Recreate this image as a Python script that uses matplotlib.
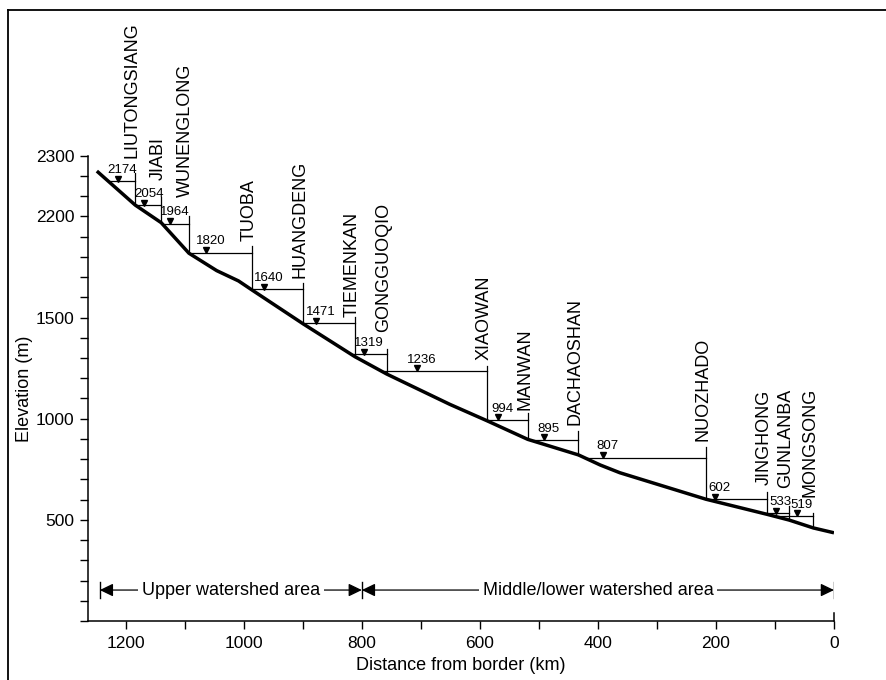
import numpy as np
import matplotlib
matplotlib.use('Agg')
import matplotlib.pyplot as plt
from matplotlib.lines import Line2D
from matplotlib.transforms import ScaledTranslation

plt.rcParams['font.family'] = ['Liberation Sans', 'DejaVu Sans']

# river bed profile: distance from border (km) and elevation (m)
profile_km = [1249, 1184, 1140, 1093, 1046, 1009, 986, 899, 812, 758, 651,
              588, 519, 433, 396, 363, 217, 113, 76, 35, 0]
profile_elev = [2224, 2056, 1969, 1818, 1732, 1681, 1636, 1468, 1307, 1221, 1071,
                990, 898, 821, 771, 733, 602, 527, 499, 460, 436]

# cascade dams (upstream -> downstream)
dams = ['LIUTONGSIANG', 'JIABI', 'WUNENGLONG', 'TUOBA', 'HUANGDENG', 'TIEMENKAN',
        'GONGGUOQIO', 'XIAOWAN', 'MANWAN', 'DACHAOSHAN', 'NUOZHADO', 'JINGHONG',
        'GUNLANBA', 'MONGSONG']
dam_km = [1184, 1140, 1093, 986, 899, 812, 758, 588, 519, 433, 217, 113, 76, 35]
dam_top = [2215, 2098, 2002, 1854, 1672, 1504, 1343, 1260, 1030, 939, 862, 639, 568, 532]
levels = [2174, 2054, 1964, 1820, 1640, 1471, 1319, 1236, 994, 895, 807, 602, 533, 519]
level_mark_km = [1214, 1169, 1125, 1064, 965, 878, 796, 707, 569, 491, 391, 202, 98, 62]
label_base = [2289, 2180, 2096, 1878, 1695, 1503, 1430, 1290, 1043, 969, 888, 672, 656, 615]

regions = ['Upper watershed area', 'Middle/lower watershed area']
region_start = [1244, 800]
region_end = [800, 0]
region_elev = 153

fig = plt.figure(figsize=(8.87, 6.8), dpi=100)
ax = fig.add_axes([88 / 887, 59 / 680, 746 / 887, 465.3 / 680])


def shifted(dx, dy):
    # offset in points on top of data coords
    return ax.transData + ScaledTranslation(dx / 72, dy / 72, fig.dpi_scale_trans)


ax.plot(profile_km, profile_elev, color='black', lw=2.5, solid_capstyle='butt', zorder=3)

elev_asc = np.array(profile_elev[::-1])
km_asc = np.array(profile_km[::-1])
for i, name in enumerate(dams):
    base = np.interp(dam_km[i], km_asc, elev_asc)
    ax.plot([dam_km[i], dam_km[i]], [base, dam_top[i]], color='black', lw=0.9)
    start = np.interp(levels[i], elev_asc, km_asc)
    ax.plot([start, dam_km[i]], [levels[i], levels[i]], color='black', lw=0.9)
    ax.plot(level_mark_km[i], levels[i], marker='v', ms=4.6, color='black',
            transform=shifted(0, 1.9), clip_on=False)
    ax.text(level_mark_km[i], levels[i], str(levels[i]), fontsize=9.5, ha='center',
            va='baseline', transform=shifted(3.3, 6), clip_on=False)
    ax.text(dam_km[i], label_base[i], name, rotation=90, fontsize=13, ha='center',
            va='bottom', transform=shifted(-2.2, 0), clip_on=False)

# watershed brackets
for i, name in enumerate(regions):
    ax.annotate('', xy=(region_start[i], region_elev), xytext=(region_end[i], region_elev),
                arrowprops=dict(arrowstyle='<|-|>,head_length=0.62,head_width=0.3',
                                color='black', lw=0.9, shrinkA=0, shrinkB=0,
                                mutation_scale=13))
    ax.text((region_start[i] + region_end[i]) / 2, region_elev, name, fontsize=13,
            ha='center', va='center',
            bbox=dict(boxstyle='square,pad=0.22', fc='white', ec='none'))
for x in [region_start[0], region_start[1], region_end[1]]:
    ax.plot([x, x], [region_elev - 40, region_elev + 40], color='black', lw=1)

# little upward tick at the end of the distance axis
ax.plot([0, 0], [0, 40], color='black', lw=1.1, clip_on=False)

ax.set_xlim(1264, 0)
ax.set_ylim(0, 2300)
ax.set_xticks(np.arange(0, 1201, 200))
ax.set_xticks(np.arange(100, 1200, 200), minor=True)
ax.set_yticks([500, 1000, 1500, 2000, 2300])
ax.set_yticklabels(['500', '1000', '1500', '2200', '2300'])
ax.set_yticks(np.arange(0, 2301, 100), minor=True)
ax.tick_params(which='both', direction='out', length=5.8, width=1.0, labelsize=12.5)
ax.tick_params(axis='y', pad=4)
ax.tick_params(axis='x', pad=5)

for s in ['top', 'right']:
    ax.spines[s].set_visible(False)
for s in ['left', 'bottom']:
    ax.spines[s].set_linewidth(1.1)

ax.set_xlabel('Distance from border (km)', fontsize=13)
ax.set_ylabel('Elevation (m)', fontsize=13)
ax.xaxis.set_label_coords(0.5, -0.078)
ax.yaxis.set_label_coords(-0.074, 0.5)

# frame around the figure (top and left edges visible)
fig.add_artist(Line2D([8 / 887, 1], [1 - 10 / 680, 1 - 10 / 680], color='black', lw=1.3))
fig.add_artist(Line2D([8 / 887, 8 / 887], [0, 1 - 10 / 680], color='black', lw=1.3))

fig.savefig('out.png', dpi=100)
